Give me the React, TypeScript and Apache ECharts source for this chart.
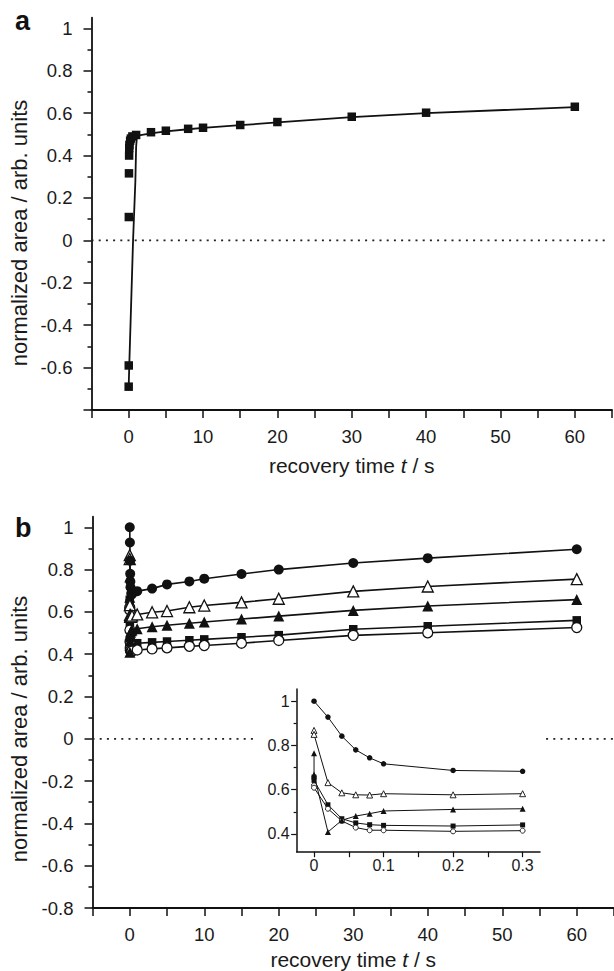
import React, { useEffect, useRef } from 'react';
import * as echarts from 'echarts';

const FONT = '"Liberation Sans", Arial, Helvetica, sans-serif';
const INK = '#111';

// ---------- Panel a ----------
const timeA = [0, 0.01, 0.02, 0.04, 0.06, 0.08, 0.1, 0.2, 0.3, 0.5, 1, 3, 5, 8, 10, 15, 20, 30, 40, 60];
const areaA = [-0.69, -0.59, 0.11, 0.316, 0.4, 0.435, 0.45, 0.47, 0.48, 0.49, 0.497, 0.51, 0.517, 0.526, 0.531, 0.544, 0.558, 0.583, 0.602, 0.63];
const fitTimeA = [0, 0.08, 0.59, 0.9, 1.0, 1.1, 1.4, 3, 5, 8, 10, 15, 20, 30, 40, 60];
const fitAreaA = [-0.69, -0.59, 0, 0.28, 0.44, 0.485, 0.495, 0.505, 0.514, 0.524, 0.53, 0.543, 0.556, 0.581, 0.6, 0.628];

// ---------- Panel b ----------
const timeB = [0, 0.02, 0.04, 0.06, 0.08, 0.1, 0.2, 0.3, 1, 3, 5, 8, 10, 15, 20, 30, 40, 60];
const filledCircle = [1.0, 0.928, 0.842, 0.78, 0.744, 0.717, 0.687, 0.683, 0.698, 0.71, 0.73, 0.744, 0.757, 0.779, 0.8, 0.831, 0.854, 0.896];
const openTriangleStart = [0.868];
const openTriangle = [0.85, 0.632, 0.586, 0.577, 0.576, 0.582, 0.577, 0.582, 0.588, 0.598, 0.604, 0.622, 0.63, 0.645, 0.662, 0.697, 0.72, 0.755];
const filledTriangleStart = [0.765];
const filledTriangle = [0.669, 0.409, 0.462, 0.481, 0.492, 0.504, 0.511, 0.514, 0.52, 0.53, 0.537, 0.546, 0.552, 0.566, 0.58, 0.607, 0.628, 0.658];
const filledSquareStart = [0.657];
const filledSquare = [0.642, 0.532, 0.469, 0.45, 0.442, 0.439, 0.436, 0.441, 0.452, 0.456, 0.46, 0.466, 0.47, 0.48, 0.49, 0.518, 0.532, 0.56];
const openCircleStart = [0.62];
const openCircle = [0.609, 0.514, 0.459, 0.429, 0.417, 0.417, 0.412, 0.415, 0.42, 0.425, 0.43, 0.437, 0.441, 0.452, 0.465, 0.489, 0.501, 0.526];

const zeroLineA = [[-5, 0], [64.3, 0]];
const zeroLineB = [[-5, 0], [65, 0]];

// ---------- Tick labels ----------
const xTickValues = [-5, 0, 5, 10, 15, 20, 25, 30, 35, 40, 45, 50, 55, 60, 65];
const xLabelValues = [0, 10, 20, 30, 40, 50, 60];
const yMajorTicks = [-0.8, -0.6, -0.4, -0.2, 0, 0.2, 0.4, 0.6, 0.8, 1];
const yMinorTicks = [-0.7, -0.5, -0.3, -0.1, 0.1, 0.3, 0.5, 0.7, 0.9];
const yLabelsA = [-0.6, -0.4, -0.2, 0, 0.2, 0.4, 0.6, 0.8, 1];
const yLabelsB = [-0.8, -0.6, -0.4, -0.2, 0, 0.2, 0.4, 0.6, 0.8, 1];
const insetXTicks = [0, 0.05, 0.1, 0.15, 0.2, 0.25, 0.3];
const insetXLabels = [0, 0.1, 0.2, 0.3];
const insetYMajor = [0.4, 0.6, 0.8, 1];
const insetYMinor = [0.5, 0.7, 0.9];

const yTitle = 'normalized area / arb. units';

const fmt = (v: number) => String(Math.round(v * 100) / 100);

const pairs = (t: number[], v: number[]) => t.map((x, i) => [x, v[i]]);
const withStart = (start: number[], vals: number[]) => [
  ...start.map((s) => [0, s]),
  ...pairs(timeB, vals),
];
const shortOnly = (d: number[][]) => d.filter((p) => p[0] <= 0.3);

export default function App() {
  const ref = useRef<HTMLDivElement>(null);

  useEffect(() => {
    if (!ref.current) return;
    const chart = echarts.init(ref.current, null, { renderer: 'svg' });

    const labelStyle = { fontFamily: FONT, fontSize: 18.5, color: '#1a1a1a' };

    const xAxisMain = (gridIndex: number, nameGap: number) => ({
      type: 'value',
      gridIndex,
      min: -5,
      max: 65,
      splitLine: { show: false },
      axisLine: { show: true, onZero: false, lineStyle: { color: INK, width: 1.8 } },
      axisTick: { show: true, length: 8, customValues: xTickValues, lineStyle: { color: INK, width: 1.5 } },
      axisLabel: { ...labelStyle, margin: 17, customValues: xLabelValues, formatter: fmt },
      name: '{n|recovery time }{i|t}{n| / s}',
      nameLocation: 'middle',
      nameGap,
      nameTextStyle: {
        fontFamily: FONT,
        fontSize: 21,
        color: '#1a1a1a',
        rich: {
          n: { fontFamily: FONT, fontSize: 21, color: '#1a1a1a' },
          i: { fontFamily: FONT, fontSize: 21, color: '#1a1a1a', fontStyle: 'italic' },
        },
      },
    });

    const yAxisMain = (gridIndex: number, labels: number[]) => ({
      type: 'value',
      gridIndex,
      min: -0.8,
      max: 1.05,
      splitLine: { show: false },
      axisLine: { show: true, onZero: false, lineStyle: { color: INK, width: 1.8 } },
      axisTick: { show: true, length: 8, customValues: yMajorTicks, lineStyle: { color: INK, width: 1.5 } },
      axisLabel: { ...labelStyle, margin: 19, customValues: labels, formatter: fmt },
    });
    const yAxisMinor = (gridIndex: number) => ({
      type: 'value',
      gridIndex,
      min: -0.8,
      max: 1.05,
      position: 'left',
      offset: 0,
      splitLine: { show: false },
      axisLine: { show: false, onZero: false },
      axisLabel: { show: false },
      axisTick: { show: true, length: 4, customValues: yMinorTicks, lineStyle: { color: INK, width: 1.5 } },
    });

    const insetLabel = { fontFamily: FONT, fontSize: 16, color: '#1a1a1a' };

    const mainB = (
      name: string,
      data: number[][],
      symbol: string,
      size: number,
      open: boolean,
      xi: number,
      yi: number,
      lw: number,
      bw: number,
      z: number
    ) => ({
      type: 'line',
      name,
      xAxisIndex: xi,
      yAxisIndex: yi,
      data,
      symbol,
      symbolSize: size,
      showAllSymbol: true,
      z,
      clip: true,
      lineStyle: { color: INK, width: lw },
      itemStyle: open
        ? { color: '#fff', borderColor: INK, borderWidth: bw }
        : { color: INK, borderColor: INK, borderWidth: 0 },
    });

    const dFC = pairs(timeB, filledCircle);
    const dOT = withStart(openTriangleStart, openTriangle);
    const dFT = withStart(filledTriangleStart, filledTriangle);
    const dFS = withStart(filledSquareStart, filledSquare);
    const dOC = withStart(openCircleStart, openCircle);

    chart.setOption({
      animation: false,
      backgroundColor: '#fff',
      grid: [
        { left: 91.5, top: 17.7, width: 520.5, height: 392.3 },
        { left: 92.5, top: 516.7, width: 525, height: 393.1 },
        { left: 296.65, top: 689, width: 243.35, height: 162.7 },
      ],
      xAxis: [
        xAxisMain(0, 45),
        xAxisMain(1, 41),
        {
          type: 'value',
          gridIndex: 2,
          min: -0.025,
          max: 0.325,
          z: 4,
          splitLine: { show: false },
          axisLine: { show: true, onZero: false, lineStyle: { color: INK, width: 1.5 } },
          axisTick: { show: true, length: 5.5, customValues: insetXTicks, lineStyle: { color: INK, width: 1.2 } },
          axisLabel: { ...insetLabel, margin: 6, customValues: insetXLabels, formatter: fmt },
        },
      ],
      yAxis: [
        yAxisMain(0, yLabelsA),
        yAxisMinor(0),
        yAxisMain(1, yLabelsB),
        yAxisMinor(1),
        {
          type: 'value',
          gridIndex: 2,
          min: 0.32,
          max: 1.055,
          z: 4,
          splitLine: { show: false },
          axisLine: { show: true, onZero: false, lineStyle: { color: INK, width: 1.5 } },
          axisTick: { show: true, length: 5.5, customValues: insetYMajor, lineStyle: { color: INK, width: 1.2 } },
          axisLabel: { ...insetLabel, margin: 7, customValues: insetYMajor, formatter: fmt },
        },
        {
          type: 'value',
          gridIndex: 2,
          min: 0.32,
          max: 1.055,
          z: 4,
          position: 'left',
          offset: 0,
          splitLine: { show: false },
          axisLine: { show: false, onZero: false },
          axisLabel: { show: false },
          axisTick: { show: true, length: 3, customValues: insetYMinor, lineStyle: { color: INK, width: 1.2 } },
        },
      ],
      graphic: [
        {
          type: 'text',
          x: 15,
          y: 21,
          style: { text: 'a', fontFamily: FONT, fontSize: 27, fontWeight: 'bold', fill: INK, align: 'left', verticalAlign: 'middle' },
        },
        {
          type: 'text',
          x: 15,
          y: 527.5,
          style: { text: 'b', fontFamily: FONT, fontSize: 27, fontWeight: 'bold', fill: INK, align: 'left', verticalAlign: 'middle' },
        },
        {
          type: 'text',
          x: 19,
          y: 233,
          rotation: Math.PI / 2,
          style: { text: yTitle, fontFamily: FONT, fontSize: 22, fill: '#1a1a1a', align: 'center', verticalAlign: 'middle' },
        },
        {
          type: 'text',
          x: 19,
          y: 729,
          rotation: Math.PI / 2,
          style: { text: yTitle, fontFamily: FONT, fontSize: 22, fill: '#1a1a1a', align: 'center', verticalAlign: 'middle' },
        },
        {
          type: 'rect',
          z: 3,
          shape: { x: 253, y: 678, width: 288, height: 202 },
          style: { fill: '#fff' },
        },
      ],
      series: [
        {
          type: 'line',
          name: 'zeroA',
          xAxisIndex: 0,
          yAxisIndex: 0,
          data: zeroLineA,
          symbol: 'none',
          z: 1,
          lineStyle: { color: '#222', width: 1.8, type: [2, 5.2] },
        },
        {
          type: 'line',
          name: 'fitA',
          xAxisIndex: 0,
          yAxisIndex: 0,
          data: pairs(fitTimeA, fitAreaA),
          symbol: 'none',
          z: 2,
          lineStyle: { color: INK, width: 1.8 },
        },
        {
          type: 'scatter',
          name: 'dataA',
          xAxisIndex: 0,
          yAxisIndex: 0,
          data: pairs(timeA, areaA),
          symbol: 'rect',
          symbolSize: 8.5,
          z: 3,
          itemStyle: { color: INK, opacity: 1 },
        },
        {
          type: 'line',
          name: 'zeroB',
          xAxisIndex: 1,
          yAxisIndex: 2,
          data: zeroLineB,
          symbol: 'none',
          z: 1,
          lineStyle: { color: '#222', width: 1.8, type: [2, 5.2] },
        },
        mainB('filledSquare', dFS, 'rect', 8.5, false, 1, 2, 1.6, 0, 2),
        mainB('openCircle', dOC, 'circle', 10, true, 1, 2, 1.6, 1.3, 2),
        mainB('filledTriangle', dFT, 'triangle', 11, false, 1, 2, 1.6, 0, 2),
        mainB('openTriangle', dOT, 'triangle', 11, true, 1, 2, 1.6, 1.3, 2),
        mainB('filledCircle', dFC, 'circle', 10, false, 1, 2, 1.6, 0, 2),
        mainB('insetFS', shortOnly(dFS), 'rect', 5, false, 2, 4, 1, 0, 5),
        mainB('insetOC', shortOnly(dOC), 'circle', 5, true, 2, 4, 1, 0.9, 5),
        mainB('insetFT', shortOnly(dFT), 'triangle', 6, false, 2, 4, 1, 0, 5),
        mainB('insetOT', shortOnly(dOT), 'triangle', 6, true, 2, 4, 1, 0.9, 5),
        mainB('insetFC', shortOnly(dFC), 'circle', 5.5, false, 2, 4, 1, 0, 5),
      ],
    });

    return () => {
      chart.dispose();
    };
  }, []);

  return (
    <div
      ref={ref}
      style={{ position: 'absolute', left: 0, top: 0, width: 614, height: 971, background: '#fff' }}
    />
  );
}
